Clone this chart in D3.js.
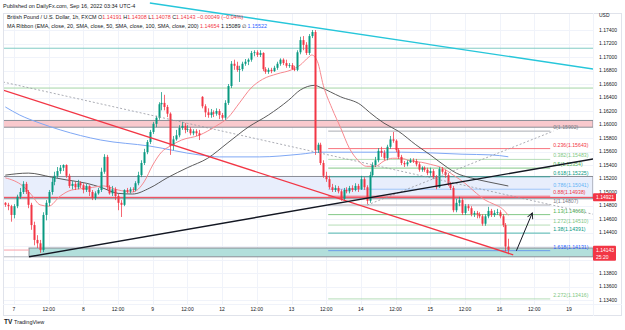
<!DOCTYPE html>
<html><head><meta charset="utf-8"><title>GBPUSD 1h</title>
<script src="https://cdn.jsdelivr.net/npm/d3@7/dist/d3.min.js"></script>
<style>html,body{margin:0;padding:0;background:#fff;}svg{display:block;font-family:"Liberation Sans",Arial,sans-serif;}</style>
</head><body>
<svg id="chart" width="625" height="330"></svg>
<script>
// ---------- DATA ----------
const firstBar = -3; // bar index of first candle (Sep 6 21:00); index 0 = Sep 7 00:00
const openP = [1.1484,1.1481,1.1479,1.1466,1.1479,1.1493,1.1500,1.1512,1.1500,1.1481,1.1451,1.1429,1.1424,1.1414,1.1466,1.1484,1.1500,1.1515,1.1524,1.1531,1.1536,1.1540,1.1524,1.1509,1.1512,1.1507,1.1513,1.1510,1.1503,1.1509,1.1500,1.1491,1.1498,1.1503,1.1530,1.1552,1.1507,1.1498,1.1504,1.1494,1.1484,1.1481,1.1503,1.1501,1.1504,1.1503,1.1513,1.1525,1.1543,1.1559,1.1574,1.1589,1.1601,1.1610,1.1630,1.1632,1.1626,1.1616,1.1568,1.1578,1.1584,1.1595,1.1598,1.1592,1.1593,1.1587,1.1590,1.1587,1.1641,1.1627,1.1618,1.1614,1.1618,1.1616,1.1620,1.1614,1.1610,1.1632,1.1657,1.1690,1.1687,1.1681,1.1682,1.1690,1.1693,1.1696,1.1706,1.1707,1.1703,1.1706,1.1682,1.1678,1.1681,1.1679,1.1684,1.1690,1.1696,1.1691,1.1687,1.1688,1.1682,1.1681,1.1707,1.1725,1.1718,1.1706,1.1731,1.1737,1.1562,1.1570,1.1543,1.1524,1.1519,1.1507,1.1503,1.1506,1.1501,1.1490,1.1503,1.1501,1.1506,1.1503,1.1509,1.1504,1.1519,1.1507,1.1487,1.1525,1.1540,1.1547,1.1561,1.1558,1.1550,1.1567,1.1578,1.1576,1.1562,1.1552,1.1543,1.1541,1.1544,1.1547,1.1546,1.1541,1.1533,1.1536,1.1533,1.1528,1.1531,1.1522,1.1507,1.1534,1.1530,1.1525,1.1512,1.1506,1.1473,1.1484,1.1488,1.1469,1.1479,1.1476,1.1467,1.1469,1.1467,1.1464,1.1453,1.1464,1.1472,1.1466,1.1469,1.1470,1.1464,1.1451,1.14191];
const highP = [1.1485,1.1484,1.1481,1.1482,1.1496,1.1506,1.1516,1.1515,1.1503,1.1484,1.1456,1.1436,1.1429,1.1470,1.1488,1.1503,1.1521,1.1530,1.1537,1.1540,1.1541,1.1541,1.1527,1.1516,1.1515,1.1518,1.1516,1.1513,1.1512,1.1510,1.1503,1.1501,1.1506,1.1536,1.1556,1.1555,1.1510,1.1509,1.1507,1.1497,1.1488,1.1504,1.1506,1.1507,1.1507,1.1516,1.1530,1.1547,1.1564,1.1577,1.1592,1.1604,1.1613,1.1633,1.1648,1.1644,1.1629,1.1618,1.1583,1.1592,1.1599,1.1604,1.1602,1.1599,1.1596,1.1593,1.1593,1.1592,1.1642,1.1630,1.1624,1.1623,1.1621,1.1624,1.1623,1.1617,1.1636,1.1660,1.1694,1.1696,1.1693,1.1687,1.1693,1.1697,1.1698,1.1709,1.1710,1.1710,1.1710,1.1707,1.1685,1.1684,1.1684,1.1687,1.1693,1.1698,1.1698,1.1696,1.1691,1.1691,1.1687,1.1710,1.1730,1.1731,1.1722,1.1734,1.1740,1.1740,1.1573,1.1573,1.1547,1.1530,1.1524,1.1512,1.1510,1.1509,1.1504,1.1506,1.1507,1.1509,1.1510,1.1513,1.1512,1.1524,1.1522,1.1510,1.1530,1.1544,1.1552,1.1565,1.1567,1.1562,1.1570,1.1583,1.1589,1.1578,1.1565,1.1555,1.1546,1.1547,1.1550,1.1550,1.1549,1.1544,1.1538,1.1538,1.1536,1.1536,1.1534,1.1525,1.1537,1.1537,1.1533,1.1528,1.1515,1.1509,1.1490,1.1493,1.1491,1.1482,1.1482,1.1479,1.1472,1.1472,1.1470,1.1467,1.1467,1.1478,1.1475,1.1473,1.1475,1.1473,1.1467,1.1454,1.14308];
const lowP = [1.1478,1.1473,1.1456,1.1461,1.1476,1.1490,1.1497,1.1497,1.1476,1.1444,1.1421,1.1417,1.1410,1.1411,1.1458,1.1479,1.1496,1.1510,1.1521,1.1527,1.1531,1.1521,1.1506,1.1504,1.1503,1.1504,1.1506,1.1498,1.1500,1.1494,1.1488,1.1488,1.1496,1.1500,1.1527,1.1503,1.1496,1.1494,1.1488,1.1473,1.1463,1.1479,1.1498,1.1498,1.1500,1.1501,1.1510,1.1522,1.1540,1.1556,1.1571,1.1586,1.1596,1.1607,1.1621,1.1621,1.1611,1.1555,1.1562,1.1576,1.1581,1.1592,1.1587,1.1589,1.1584,1.1584,1.1583,1.1577,1.1624,1.1611,1.1610,1.1610,1.1611,1.1613,1.1608,1.1607,1.1607,1.1629,1.1654,1.1681,1.1678,1.1663,1.1679,1.1687,1.1688,1.1693,1.1701,1.1700,1.1700,1.1679,1.1675,1.1675,1.1676,1.1678,1.1681,1.1687,1.1688,1.1684,1.1684,1.1681,1.1679,1.1679,1.1704,1.1710,1.1703,1.1703,1.1728,1.1555,1.1558,1.1540,1.1521,1.1515,1.1504,1.1500,1.1500,1.1498,1.1487,1.1488,1.1498,1.1498,1.1500,1.1501,1.1500,1.1503,1.1503,1.1482,1.1484,1.1522,1.1537,1.1544,1.1552,1.1547,1.1547,1.1564,1.1573,1.1559,1.1549,1.1540,1.1537,1.1538,1.1543,1.1543,1.1538,1.1530,1.1530,1.1530,1.1525,1.1524,1.1519,1.1504,1.1506,1.1527,1.1521,1.1509,1.1503,1.1470,1.1470,1.1479,1.1466,1.1466,1.1472,1.1464,1.1463,1.1461,1.1461,1.1450,1.1450,1.1461,1.1463,1.1463,1.1466,1.1461,1.1448,1.1412,1.14078];
const closeP = [1.1481,1.1479,1.1466,1.1479,1.1493,1.1500,1.1512,1.1500,1.1481,1.1451,1.1429,1.1424,1.1414,1.1466,1.1484,1.1500,1.1515,1.1524,1.1531,1.1536,1.1540,1.1524,1.1509,1.1512,1.1507,1.1513,1.1510,1.1503,1.1509,1.1500,1.1491,1.1498,1.1503,1.1530,1.1552,1.1507,1.1498,1.1504,1.1494,1.1484,1.1481,1.1503,1.1501,1.1504,1.1503,1.1513,1.1525,1.1543,1.1559,1.1574,1.1589,1.1601,1.1610,1.1630,1.1632,1.1626,1.1616,1.1568,1.1578,1.1584,1.1595,1.1598,1.1592,1.1593,1.1587,1.1590,1.1587,1.1584,1.1627,1.1618,1.1614,1.1618,1.1616,1.1620,1.1614,1.1610,1.1632,1.1657,1.1690,1.1687,1.1681,1.1682,1.1690,1.1693,1.1696,1.1706,1.1707,1.1703,1.1706,1.1682,1.1678,1.1681,1.1679,1.1684,1.1690,1.1696,1.1691,1.1687,1.1688,1.1682,1.1681,1.1707,1.1725,1.1718,1.1706,1.1731,1.1737,1.1562,1.1570,1.1543,1.1524,1.1519,1.1507,1.1503,1.1506,1.1501,1.1490,1.1503,1.1501,1.1506,1.1503,1.1509,1.1504,1.1519,1.1507,1.1487,1.1525,1.1540,1.1547,1.1561,1.1558,1.1550,1.1567,1.1578,1.1576,1.1562,1.1552,1.1543,1.1541,1.1544,1.1547,1.1546,1.1541,1.1533,1.1536,1.1533,1.1528,1.1531,1.1522,1.1507,1.1534,1.1530,1.1525,1.1512,1.1506,1.1473,1.1484,1.1488,1.1469,1.1479,1.1476,1.1467,1.1469,1.1467,1.1464,1.1453,1.1464,1.1472,1.1466,1.1469,1.1470,1.1464,1.1451,1.14192,1.14143];

// Moving averages (bar index, value)
const emaBars = [-3,3,6,9,12,16,20,26,31,36,41,45,48,51,54,58,64,70,74,78,82,86,91,96,99,102,103,105,107,110,113,116,119,122,125,128,131,134,137,141,144,148,152,156,160,163,166,169,171];
const emaVals = [1.1521,1.1509,1.1496,1.1481,1.1479,1.1494,1.1503,1.1506,1.1509,1.1503,1.1500,1.1515,1.1540,1.1559,1.1568,1.1577,1.1584,1.1598,1.1610,1.1632,1.1654,1.1667,1.1675,1.1681,1.1688,1.1700,1.1703,1.1693,1.1658,1.1624,1.1595,1.1565,1.1547,1.1538,1.1538,1.1546,1.1550,1.1550,1.1546,1.1544,1.1541,1.1536,1.1525,1.1513,1.1498,1.1488,1.1482,1.1475,1.14654];
const sma50Bars = [-3,5,13,18,25,30,36,41,47,53,60,67,74,81,88,95,99,104,106,113,120,123,128,133,139,144,150,153,158,164,171];
const sma50Vals = [1.1525,1.1528,1.1522,1.1518,1.1513,1.1507,1.1498,1.1497,1.1506,1.1521,1.1536,1.1550,1.1573,1.1596,1.1614,1.1636,1.1651,1.1658,1.1655,1.1641,1.1629,1.1618,1.1602,1.1590,1.1570,1.1555,1.1536,1.1528,1.1521,1.1515,1.15089];
const sma200Bars = [-3,2,9,16,30,47,64,71,85,99,106,120,134,144,155,165,171];
const sma200Vals = [1.1626,1.1614,1.1602,1.1592,1.1577,1.1568,1.1555,1.1552,1.1552,1.1556,1.1559,1.1559,1.1559,1.1558,1.1556,1.1555,1.15522];

// Axes
const timeTickBars = [0,12,24,36,48,60,72,84,96,108,120,132,144,156,168,180,192];
const timeTickLabels = ["7","12:00","8","12:00","9","12:00","12","12:00","13","12:00","14","12:00","15","12:00","16","12:00","19"];
const priceTicks = [1.134,1.136,1.138,1.140,1.142,1.144,1.146,1.148,1.150,1.152,1.154,1.156,1.158,1.160,1.162,1.164,1.166,1.168,1.170,1.172,1.174];

// Drawn levels / zones / trendlines (bar index, price)
const hLevels = [1.1713, 1.1654, 1.14921];
const zoneTops = [1.1606, 1.1523, 1.1417];
const zoneBottoms = [1.1596, 1.1490, 1.1404];
const zoneStartBars = [-6, -6, 5.2];
const fibRatios = [0,0.236,0.382,0.5,0.618,0.786,0.88,1,1.13,1.272,1.38,1.618,2.272];
const fibPrices = [1.15902,1.15643,1.15483,1.15354,1.15225,1.15041,1.14938,1.14807,1.14665,1.14510,1.14391,1.14131,1.13416];
const fibStartBar = 108.7, fibEndBar = 185.5;
const cyanLine = [[47,1.17800],[200.4,1.16822]];
const redLine = [[-3.8,1.1651],[172.7,1.1407]];
const blackLine = [[5.2,1.1404],[200.4,1.1549]];
const grayDashLine = [[-3.8,1.1663],[200.4,1.1467]];
const fibDiag = [[122.2,1.14807],[186.6,1.15902]];
const arrowLine = [[173.8,1.1413],[179.3,1.1469]];

// ---------- DRAW ----------
const svg = d3.select('#chart');
const PL = 3, PR = 593, PT = 13, PB = 304;
const x = d3.scaleLinear().domain([0,192]).range([14,569]);
const y = d3.scaleLinear().domain([1.134,1.174]).range([300,30]);

const defs = svg.append('defs');
defs.append('clipPath').attr('id','plot').append('rect').attr('x',PL).attr('y',PT).attr('width',PR-PL).attr('height',PB-PT);
defs.append('clipPath').attr('id','full').append('rect').attr('x',0).attr('y',0).attr('width',PR).attr('height',PB);
defs.append('marker').attr('id','arr').attr('viewBox','0 0 10 10').attr('refX',9).attr('refY',5)
  .attr('markerWidth',7).attr('markerHeight',7).attr('orient','auto-start-reverse')
  .append('path').attr('d','M1,1 L9,5 L1,9').attr('fill','none').attr('stroke','#131722').attr('stroke-width',1.3);

svg.append('rect').attr('width',625).attr('height',330).attr('fill','#fff');

// grid
const grid = svg.append('g');
grid.selectAll('line.v').data(timeTickBars).join('line').attr('class','v')
  .attr('x1',d=>Math.round(x(d))+0.5).attr('x2',d=>Math.round(x(d))+0.5).attr('y1',PT).attr('y2',PB)
  .attr('stroke','#f0f3fa').attr('stroke-width',1);
grid.selectAll('line.h').data(priceTicks).join('line').attr('class','h')
  .attr('y1',d=>Math.round(y(d))+0.5).attr('y2',d=>Math.round(y(d))+0.5).attr('x1',PL).attr('x2',PR)
  .attr('stroke','#f0f3fa').attr('stroke-width',1);

const plot = svg.append('g').attr('clip-path','url(#plot)');

// zones
const zoneFill = ['#f9c9cd','#e8eefc','#b2dfdb'];
const zoneStroke = ['#8a8d96','#8a8d96','#8a8d96'];
zoneTops.forEach((t,k)=>{
  const x0 = Math.max(PL, x(zoneStartBars[k]));
  plot.append('rect').attr('x',x0).attr('y',y(t)).attr('width',PR-x0).attr('height',y(zoneBottoms[k])-y(t))
    .attr('fill',zoneFill[k]).attr('stroke',zoneStroke[k]).attr('stroke-width',1);
});
plot.append('line').attr('x1',PL).attr('x2',x(zoneStartBars[2])).attr('y1',y(1.1414)).attr('y2',y(1.1414)).attr('stroke','#f7a1a8').attr('stroke-width',1);
plot.append('line').attr('x1',PL).attr('x2',x(zoneStartBars[2])).attr('y1',y(zoneBottoms[2])).attr('y2',y(zoneBottoms[2])).attr('stroke','#b2b5be').attr('stroke-width',1);

// horizontal levels
const hColors = ['#80cbc4','#a5d6a7','#f23645'];
hLevels.forEach((p,k)=>{
  plot.append('line').attr('x1',PL).attr('x2',PR).attr('y1',y(p)).attr('y2',y(p)).attr('stroke',hColors[k]).attr('stroke-width',1);
});

// fib levels
const fibColors = ['#9598a1','#f7525f','#a5d6a7','#66bb6a','#26a69a','#90bff9','#f7525f','#9598a1','#66bb6a','#a5d6a7','#26a69a','#5b8def','#a5d6a7'];
const fibTextColors = ['#787b86','#f23645','#81c784','#4caf50','#089981','#64b5f6','#f23645','#787b86','#4caf50','#81c784','#089981','#2962ff','#81c784'];
fibPrices.forEach((p,k)=>{
  plot.append('line').attr('x1',x(fibStartBar)).attr('x2',x(fibEndBar)).attr('y1',y(p)).attr('y2',y(p))
    .attr('stroke',fibColors[k]).attr('stroke-width',1).attr('opacity',0.8);
  plot.append('text').attr('x',x(fibEndBar)+3).attr('y',y(p)-2).attr('font-size',5.2).attr('fill',fibTextColors[k])
    .text(`${fibRatios[k]}(${p.toFixed(5)})`);
});

// MAs
const line = d3.line().x(d=>x(d[0])).y(d=>y(d[1])).curve(d3.curveMonotoneX);
plot.append('path').attr('d',line(sma200Bars.map((b,k)=>[b,sma200Vals[k]]))).attr('fill','none').attr('stroke','#7fa8f5').attr('stroke-width',1);
plot.append('path').attr('d',line(sma50Bars.map((b,k)=>[b,sma50Vals[k]]))).attr('fill','none').attr('stroke','#4a4a4a').attr('stroke-width',0.9);
plot.append('path').attr('d',line(emaBars.map((b,k)=>[b,emaVals[k]]))).attr('fill','none').attr('stroke','#f7898f').attr('stroke-width',1);

// candles
const bars = openP.map((o,k)=>({i:firstBar+k,o,h:highP[k],l:lowP[k],c:closeP[k]}));
const up = '#089981', dn = '#f23645';
const cg = plot.append('g');
cg.selectAll('line').data(bars).join('line')
  .attr('x1',d=>Math.round(x(d.i))+0.5).attr('x2',d=>Math.round(x(d.i))+0.5)
  .attr('y1',d=>y(d.h)).attr('y2',d=>y(d.l))
  .attr('stroke',d=>d.c>=d.o?up:dn).attr('stroke-width',1).attr('opacity',0.75);
cg.selectAll('rect').data(bars).join('rect')
  .attr('x',d=>Math.round(x(d.i))-0.5).attr('width',2)
  .attr('y',d=>y(Math.max(d.o,d.c))).attr('height',d=>Math.max(0.8,Math.abs(y(d.o)-y(d.c))))
  .attr('fill',d=>d.c>=d.o?up:dn);

// trendlines
const seg = (pts,color,w,dash)=>plot.append('line').attr('x1',x(pts[0][0])).attr('y1',y(pts[0][1])).attr('x2',x(pts[1][0])).attr('y2',y(pts[1][1]))
  .attr('stroke',color).attr('stroke-width',w).attr('stroke-dasharray',dash||null);
seg(grayDashLine,'#9598a1',0.8,'2,2');
seg(fibDiag,'#9598a1',0.8,'2,2');
seg(redLine,'#f23645',1.3);
seg(blackLine,'#131722',1.4);
seg(arrowLine,'#131722',1).attr('marker-end','url(#arr)');

// frame
svg.append('rect').attr('x',PL+0.5).attr('y',PT+0.5).attr('width',618).attr('height',302).attr('fill','none').attr('stroke','#e0e3eb');
svg.append('line').attr('x1',PL).attr('x2',622).attr('y1',PB+0.5).attr('y2',PB+0.5).attr('stroke','#f0f3fa');
svg.append('line').attr('x1',PR+0.5).attr('x2',PR+0.5).attr('y1',PT).attr('y2',316).attr('stroke','#f0f3fa');

// cyan line (runs up through the header)
svg.append('g').attr('clip-path','url(#full)').append('line')
  .attr('x1',x(cyanLine[0][0])).attr('y1',y(cyanLine[0][1])).attr('x2',x(cyanLine[1][0])).attr('y2',y(cyanLine[1][1]))
  .attr('stroke','#26c6da').attr('stroke-width',1.4);

// price boxes -> hide tick labels whose centre falls inside a box
const lastC = closeP[closeP.length-1];
const boxes = [{p:1.14921, lines:['1.14921']},{p:lastC, lines:[lastC.toFixed(5),'25:20']}];
boxes.forEach(b=>{ b.top = y(b.p)-4; b.bot = b.top + (b.lines.length>1?15:8); });
const visibleTicks = priceTicks.filter(t=>{ const yy=y(t); return !boxes.some(b=>yy>=b.top && yy<=b.bot); });

// price axis
const ax = svg.append('g').attr('font-size',5).attr('fill','#131722');
ax.selectAll('text').data(visibleTicks).join('text').attr('x',599).attr('y',d=>y(d)).attr('dy','0.35em').text(d=>d.toFixed(5));
ax.append('text').attr('x',599).attr('y',17).text('USD');
// time axis
svg.append('g').attr('font-size',5).attr('fill','#131722').selectAll('text').data(timeTickBars).join('text')
  .attr('x',(d)=>x(d)).attr('y',311).attr('text-anchor','middle').text((d,k)=>timeTickLabels[k]);

boxes.forEach(b=>{
  const g = svg.append('g');
  g.append('rect').attr('x',593).attr('y',b.top).attr('width',23).attr('height',b.bot-b.top).attr('rx',1).attr('fill','#f23645');
  b.lines.forEach((t,k)=>g.append('text').attr('x',596).attr('y',y(b.p)+k*7).attr('dy','0.35em').attr('font-size',5).attr('fill','#fff').text(t));
});

// header & legend
svg.append('text').attr('x',3).attr('y',7.5).attr('font-size',5.5).attr('fill','#131722').text('Published on DailyFx.com, Sep 16, 2022 03:34 UTC-4');
const last = bars[bars.length-1];
const prev = bars[bars.length-2];
const chg = last.c - prev.c;
const l1 = svg.append('text').attr('x',7).attr('y',19).attr('font-size',5.4).attr('fill','#131722');
l1.append('tspan').text('British Pound / U.S. Dollar, 1h, FXCM  O');
l1.append('tspan').attr('fill','#f23645').text(last.o.toFixed(5));
l1.append('tspan').text('  H');
l1.append('tspan').attr('fill','#f23645').text(last.h.toFixed(5));
l1.append('tspan').text('  L');
l1.append('tspan').attr('fill','#f23645').text(last.l.toFixed(5));
l1.append('tspan').text('  C');
l1.append('tspan').attr('fill','#f23645').text(last.c.toFixed(5));
l1.append('tspan').attr('fill','#f23645').text('  \u2212' + Math.abs(chg).toFixed(5) + ' (\u2212' + Math.abs(chg/prev.c*100).toFixed(2) + '%)');
const l2 = svg.append('text').attr('x',7).attr('y',28).attr('font-size',5.4).attr('fill','#131722');
l2.append('tspan').text('MA Ribbon (EMA, close, 20, SMA, close, 50, SMA, close, 100, SMA, close, 200)  ');
l2.append('tspan').attr('fill','#f23645').text(emaVals[emaVals.length-1].toFixed(5));
l2.append('tspan').text('  ' + sma50Vals[sma50Vals.length-1].toFixed(5) + '  \u2205  ');
l2.append('tspan').attr('fill','#2962ff').text(sma200Vals[sma200Vals.length-1].toFixed(5));

// TradingView logo
const lg = svg.append('g');
lg.append('text').attr('x',4).attr('y',324).attr('font-size',6.5).attr('font-weight','bold').attr('fill','#131722').text('TV');
lg.append('text').attr('x',14).attr('y',324).attr('font-size',5.5).attr('fill','#131722').text('TradingView');
</script>
</body></html>
